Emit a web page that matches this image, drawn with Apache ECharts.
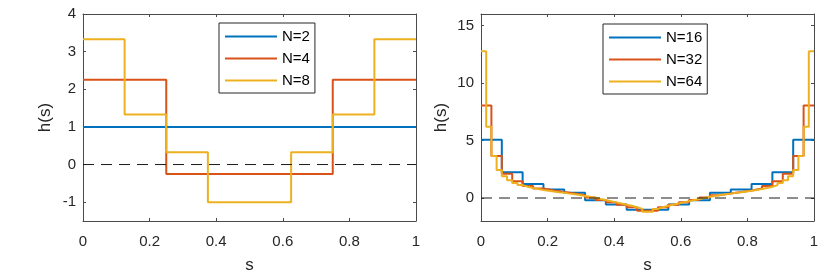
<!DOCTYPE html>
<html>
<head>
<meta charset="utf-8">
<script src="https://cdn.jsdelivr.net/npm/echarts@6/dist/echarts.min.js"></script>
<style>
html,body{margin:0;padding:0;background:#fff;}
#chart{width:830px;height:276px;}
</style>
</head>
<body>
<div id="chart"></div>
<script>
// ---- data ----
const hN2 = [1, 1];
const hN4 = [2.25, -0.25, -0.25, 2.25];
const hN8 = [3.33, 1.33, 0.33, -1, -1, 0.33, 1.33, 3.33];
const hN16 = [5.06, 2.24, 1.22, 0.74, 0.46, -0.2, -0.56, -1.02,
              -1.02, -0.56, -0.2, 0.46, 0.74, 1.22, 2.24, 5.06];
const hN32 = [8.05, 3.66, 2.1, 1.45, 1.05, 0.82, 0.66, 0.52, 0.4, 0.25, 0.05, -0.18, -0.38, -0.58, -0.8, -1.1,
              -1.1, -0.8, -0.58, -0.38, -0.18, 0.05, 0.25, 0.4, 0.52, 0.66, 0.82, 1.05, 1.45, 2.1, 3.66, 8.05];
const hN64 = [12.76, 6.2, 3.66, 2.44, 1.9, 1.55, 1.3, 1.12, 0.98, 0.87, 0.78, 0.7, 0.63, 0.57, 0.51, 0.46,
              0.38, 0.32, 0.26, 0.18, 0.1, 0.02, -0.08, -0.18, -0.28, -0.38, -0.48, -0.58, -0.68, -0.8, -0.95, -1.2,
              -1.2, -0.95, -0.8, -0.68, -0.58, -0.48, -0.38, -0.28, -0.18, -0.08, 0.02, 0.1, 0.18, 0.26, 0.32, 0.38,
              0.46, 0.51, 0.57, 0.63, 0.7, 0.78, 0.87, 0.98, 1.12, 1.3, 1.55, 1.9, 2.44, 3.66, 6.2, 12.76];
const leftNames = ['N=2', 'N=4', 'N=8'];
const rightNames = ['N=16', 'N=32', 'N=64'];
const xTicks = [0, 0.2, 0.4, 0.6, 0.8, 1];
const yTicksLeft = [-1, 0, 1, 2, 3, 4];
const yTicksRight = [0, 5, 10, 15];
const zeroLine = [0, 0];

// ---- helpers ----
const colors = ['#0072BD', '#D95319', '#EDB120'];
const FONT = '"Liberation Sans", Arial, Helvetica, sans-serif';
const AX = '#262626';
const AXL = '#4a4a4a';

function steps(vals) {
  const n = vals.length, pts = [];
  for (let i = 0; i < n; i++) {
    pts.push([i / n, vals[i]]);
    pts.push([(i + 1) / n, vals[i]]);
  }
  return pts;
}
function lineSeries(name, vals, color, gi) {
  return {
    name: name, type: 'line', data: steps(vals),
    xAxisIndex: gi * 2, yAxisIndex: gi * 2,
    symbol: 'none', showSymbol: false, animation: false,
    lineStyle: { color: color, width: 2 }, itemStyle: { color: color },
    z: 3
  };
}
function dashSeries(gi) {
  return {
    name: 'zero' + gi, type: 'line',
    data: [[xTicks[0], zeroLine[0]], [xTicks[xTicks.length - 1], zeroLine[1]]],
    xAxisIndex: gi * 2, yAxisIndex: gi * 2,
    symbol: 'none', animation: false, silent: true,
    lineStyle: { color: '#1a1a1a', width: 1, type: [11, 7] },
    z: 4
  };
}
function xAxes(gi) {
  const base = {
    gridIndex: gi, type: 'value', min: 0, max: 1,
    axisLine: { show: true, onZero: false, lineStyle: { color: AXL, width: 1 } },
    axisTick: { show: true, inside: true, length: 3, customValues: xTicks, lineStyle: { color: AXL } },
    splitLine: { show: false }
  };
  return [
    Object.assign({}, base, {
      position: 'bottom',
      axisLabel: { show: true, margin: 13, customValues: xTicks, color: AX, fontSize: 15, fontFamily: FONT,
                   formatter: v => String(+v.toFixed(1)) },
      name: 's', nameLocation: 'middle', nameGap: 36,
      nameTextStyle: { color: AX, fontSize: 17, fontFamily: FONT }
    }),
    Object.assign({}, base, { position: 'top', axisLabel: { show: false } })
  ];
}
function yAxes(gi, min, max, ticks, gap) {
  const base = {
    gridIndex: gi, type: 'value', min: min, max: max,
    axisLine: { show: true, onZero: false, lineStyle: { color: AXL, width: 1 } },
    axisTick: { show: true, inside: true, length: 3, customValues: ticks, lineStyle: { color: AXL } },
    splitLine: { show: false }
  };
  return [
    Object.assign({}, base, {
      position: 'left',
      axisLabel: { show: true, margin: 7, customValues: ticks, color: AX, fontSize: 15, fontFamily: FONT },
      name: 'h(s)', nameLocation: 'middle', nameGap: gap, nameRotate: 90,
      nameTextStyle: { color: AX, fontSize: 17, fontFamily: FONT }
    }),
    Object.assign({}, base, { position: 'right', axisLabel: { show: false } })
  ];
}
function legend(names, left, top) {
  return {
    data: names, orient: 'vertical', left: left, top: top,
    itemWidth: 52, itemHeight: 14, itemGap: 7,
    padding: [6, 5, 5, 5],
    borderColor: AX, borderWidth: 1, backgroundColor: '#fff',
    itemStyle: { opacity: 0 },
    lineStyle: { width: 2 },
    textStyle: { color: '#000', fontSize: 15, fontFamily: FONT },
    selectedMode: false
  };
}

const chart = echarts.init(document.getElementById('chart'), null, { renderer: 'canvas' });
chart.setOption({
  animation: false,
  backgroundColor: '#fff',
  grid: [
    { left: 83, top: 14, width: 333, height: 207, containLabel: false, outerBoundsMode: 'none' },
    { left: 481, top: 14, width: 333, height: 207, containLabel: false, outerBoundsMode: 'none' }
  ],
  xAxis: xAxes(0).concat(xAxes(1)),
  yAxis: yAxes(0, -1.5, 4, yTicksLeft, 29).concat(yAxes(1, -2, 16, yTicksRight, 31)),
  legend: [legend(leftNames, 219, 23), legend(rightNames, 603, 24)],
  series: [
    dashSeries(0),
    lineSeries(leftNames[0], hN2, colors[0], 0),
    lineSeries(leftNames[1], hN4, colors[1], 0),
    lineSeries(leftNames[2], hN8, colors[2], 0),
    dashSeries(1),
    lineSeries(rightNames[0], hN16, colors[0], 1),
    lineSeries(rightNames[1], hN32, colors[1], 1),
    lineSeries(rightNames[2], hN64, colors[2], 1)
  ]
});
</script>
</body>
</html>
